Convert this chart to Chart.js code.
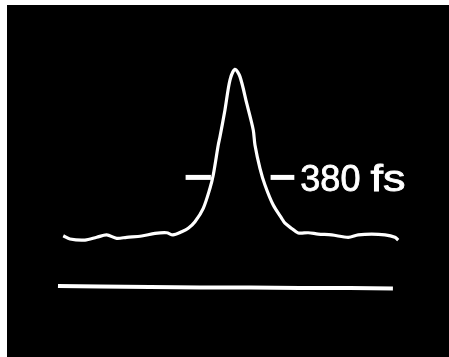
<!DOCTYPE html>
<html>
<head>
<meta charset="utf-8">
<script src="https://cdn.jsdelivr.net/npm/chart.js@4/dist/chart.umd.min.js"></script>
<style>
  html, body { margin: 0; padding: 0; background: #fff; }
  #screen { position: absolute; left: 7px; top: 5px; width: 442px; height: 352px; background: #000; }
  #wrap { position: absolute; left: 0; top: 0; width: 449px; height: 357px; }
</style>
</head>
<body>
<div id="screen"></div>
<div id="wrap"><canvas id="trace"></canvas></div>
<script>
// autocorrelation trace, delay in fs, signal in arb. units (peak = 1)
const delay = [-1099, -1056, -960, -885, -821, -757, -693, -597, -512, -437, -397, -341, -299, -256, -203, -160, -139, -107, -96, -64, -32, 0, 32, 75, 117, 128, 160, 192, 245, 299, 320, 363, 405, 469, 533, 619, 725, 789, 875, 960, 1024, 1045]
const signal = [0.230, 0.215, 0.210, 0.223, 0.234, 0.218, 0.223, 0.229, 0.241, 0.244, 0.234, 0.249, 0.265, 0.295, 0.357, 0.450, 0.511, 0.650, 0.688, 0.812, 0.950, 1.000, 0.966, 0.843, 0.719, 0.650, 0.542, 0.465, 0.372, 0.311, 0.288, 0.264, 0.243, 0.244, 0.238, 0.234, 0.223, 0.234, 0.238, 0.234, 0.223, 0.210]

// zero level (background) trace
const zeroDelay = [-1133, -864, -544, -224, 96, 416, 736, 1011]
const zeroSignal = [-0.002, -0.005, -0.007, -0.009, -0.009, -0.012, -0.012, -0.014]

// FWHM markers
const markerLeft = [-316, -154]
const markerRight = [228, 380]
const markerLevel = 0.5
const widthValue = '380'
const widthUnit = 'fs'

const toPoints = (xs, ys) => xs.map((x, i) => ({ x: x, y: ys[i] }))

// draws the width label just right of the right marker
const labelPlugin = {
  id: 'widthLabel',
  afterDatasetsDraw(chart) {
    const { ctx, scales } = chart
    const x = scales.x.getPixelForValue(markerRight[1]) + 6
    const y = scales.y.getPixelForValue(markerLevel) + 14
    ctx.save()
    ctx.fillStyle = '#fff'
    ctx.strokeStyle = '#fff'
    ctx.lineWidth = 0.8
    ctx.font = '36px "Liberation Sans", Arial, sans-serif'
    ctx.textBaseline = 'alphabetic'
    ctx.fillText(widthValue, x, y)
    ctx.strokeText(widthValue, x, y)
    const w = ctx.measureText(widthValue + ' ').width
    // unit letters are drawn a bit wider, like the original lettering
    ctx.translate(x + w, y)
    ctx.scale(1.25, 1)
    ctx.fillText(widthUnit, 0, 0)
    ctx.strokeText(widthUnit, 0, 0)
    ctx.restore()
  }
}

new Chart(document.getElementById('trace'), {
  type: 'line',
  data: {
    datasets: [
      {
        data: toPoints(delay, signal),
        borderColor: '#fff',
        borderWidth: 3.2,
        tension: 0.3,
        pointRadius: 0
      },
      {
        data: toPoints(zeroDelay, zeroSignal),
        borderColor: '#fff',
        borderWidth: 4,
        tension: 0.3,
        pointRadius: 0
      },
      {
        data: toPoints(markerLeft, [markerLevel, markerLevel]),
        borderColor: '#fff',
        borderWidth: 5,
        borderCapStyle: 'butt',
        pointRadius: 0
      },
      {
        data: toPoints(markerRight, [markerLevel, markerLevel]),
        borderColor: '#fff',
        borderWidth: 5,
        borderCapStyle: 'butt',
        pointRadius: 0
      }
    ]
  },
  options: {
    responsive: true,
    maintainAspectRatio: false,
    animation: false,
    layout: { padding: 0 },
    scales: {
      x: { type: 'linear', display: false, min: -1504, max: 1370 },
      y: { type: 'linear', display: false, min: -0.3307, max: 1.3205 }
    },
    plugins: {
      legend: { display: false },
      tooltip: { enabled: false }
    }
  },
  plugins: [labelPlugin]
})
</script>
</body>
</html>
